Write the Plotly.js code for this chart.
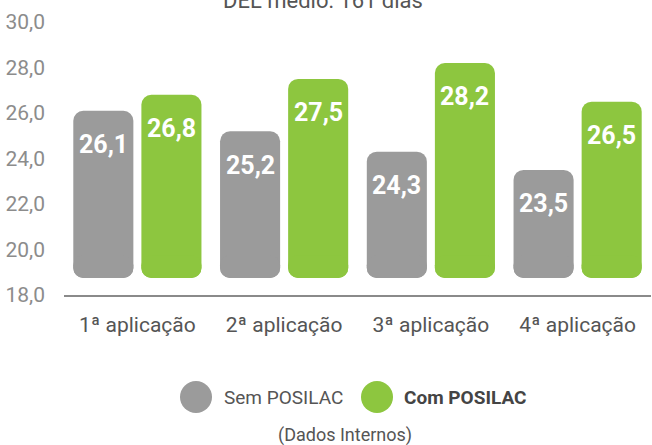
<!DOCTYPE html>
<html>
<head>
<meta charset="utf-8">
<script src="https://cdn.plot.ly/plotly-3.0.1.min.js"></script>
<style>
html,body{margin:0;padding:0;background:#fff;}
#chart{width:652px;height:445px;}
</style>
</head>
<body>
<div id="chart"></div>
<script>
// ---- data ----
const categories = ['1ª aplicação', '2ª aplicação', '3ª aplicação', '4ª aplicação'];
const semPosilac = [26.1, 25.2, 24.3, 23.5];
const comPosilac = [26.8, 27.5, 28.2, 26.5];
const yTickValues = [18, 20, 22, 24, 26, 28, 30];
const seriesNames = ['Sem POSILAC', 'Com POSILAC'];
const chartTitle = 'DEL médio: 161 dias';
const sourceNote = '(Dados Internos)';

// ---- style ----
const GRAY = '#9b9b9b';
const GREEN = '#8dc63f';
const FONT = 'Roboto, Liberation Sans, sans-serif';
const FLOOR = 18.75;   // bars float slightly above the axis line
const RADIUS = 10;
const W = 652, H = 445;
const M = {l: 64, r: 1, t: 22, b: 150};
const pw = W - M.l - M.r, ph = H - M.t - M.b;
const px2x = p => (p - M.l) / pw;
const px2y = p => (H - M.b - p) / ph;

function barPair(values, group, color, name) {
  const upper = {
    type: 'bar', name: name, x: categories,
    y: values.map(v => v - FLOOR), base: FLOOR,
    offsetgroup: group, marker: {color: color, cornerradius: RADIUS, line: {width: 0}},
    showlegend: false, hoverinfo: 'skip'
  };
  const lower = {
    type: 'bar', name: name, x: categories,
    y: values.map(() => -1), base: FLOOR + 1,
    offsetgroup: group, marker: {color: color, cornerradius: RADIUS, line: {width: 0}},
    showlegend: false, hoverinfo: 'skip'
  };
  return [upper, lower];
}

const data = [
  ...barPair(semPosilac, 'sem', GRAY, seriesNames[0]),
  ...barPair(comPosilac, 'com', GREEN, seriesNames[1])
];

const fmt = v => v.toFixed(1).replace('.', ',');
const annotations = [];
[[semPosilac, -34], [comPosilac, 34]].forEach(([vals, dx]) => {
  vals.forEach((v, i) => {
    annotations.push({
      x: categories[i], y: v, xref: 'x', yref: 'y',
      xshift: dx, yshift: -34, yanchor: 'middle', xanchor: 'center',
      text: '<b>' + fmt(v) + '</b>', showarrow: false,
      font: {family: FONT, size: 25, color: '#ffffff'}
    });
  });
});

// title (partly cut off at the top)
annotations.push({
  x: px2x(323), xref: 'paper', xanchor: 'center',
  y: 1, yref: 'paper', yanchor: 'bottom', yshift: 7,
  text: chartTitle, showarrow: false,
  font: {family: FONT, size: 22, color: '#555555'}
});

// legend
const legY = px2y(397);
annotations.push({
  x: px2x(222), xref: 'paper', xanchor: 'left', y: legY, yref: 'paper', yanchor: 'middle',
  text: seriesNames[0], showarrow: false, font: {family: FONT, size: 19, color: '#555555'}
});
annotations.push({
  x: px2x(402), xref: 'paper', xanchor: 'left', y: legY, yref: 'paper', yanchor: 'middle',
  text: '<b>' + seriesNames[1] + '</b>', showarrow: false, font: {family: FONT, size: 19, color: '#444444'}
});
annotations.push({
  x: px2x(345), xref: 'paper', xanchor: 'center', y: px2y(435), yref: 'paper', yanchor: 'middle',
  text: sourceNote, showarrow: false, font: {family: FONT, size: 18, color: '#555555'}
});

const circle = (cx, color) => ({
  type: 'circle', xref: 'paper', yref: 'paper',
  xsizemode: 'pixel', ysizemode: 'pixel',
  xanchor: px2x(cx), yanchor: legY,
  x0: -16, x1: 16, y0: -16, y1: 16,
  fillcolor: color, line: {width: 0}
});

const layout = {
  width: W, height: H,
  margin: M,
  paper_bgcolor: '#ffffff', plot_bgcolor: '#ffffff',
  separators: ',.',
  barmode: 'group', bargap: 0.072, bargroupgap: 0.118,
  showlegend: false, hovermode: false,
  xaxis: {
    type: 'category', showline: true, linecolor: '#8a8a8a', linewidth: 2,
    ticks: '', showgrid: false, zeroline: false, fixedrange: true, tickangle: 0,
    tickfont: {family: FONT, size: 21, color: '#555555'},
    ticklabelstandoff: 10
  },
  yaxis: {
    range: [18, 30], tickvals: yTickValues, tickformat: '.1f',
    showgrid: false, zeroline: false, showline: false, ticks: '',
    tickfont: {family: FONT, size: 21, color: '#8c8c8c'},
    ticklabelstandoff: 18, fixedrange: true
  },
  shapes: [circle(196, GRAY), circle(377, GREEN)],
  annotations: annotations
};

Plotly.newPlot('chart', data, layout, {displayModeBar: false, staticPlot: true});
</script>
</body>
</html>
